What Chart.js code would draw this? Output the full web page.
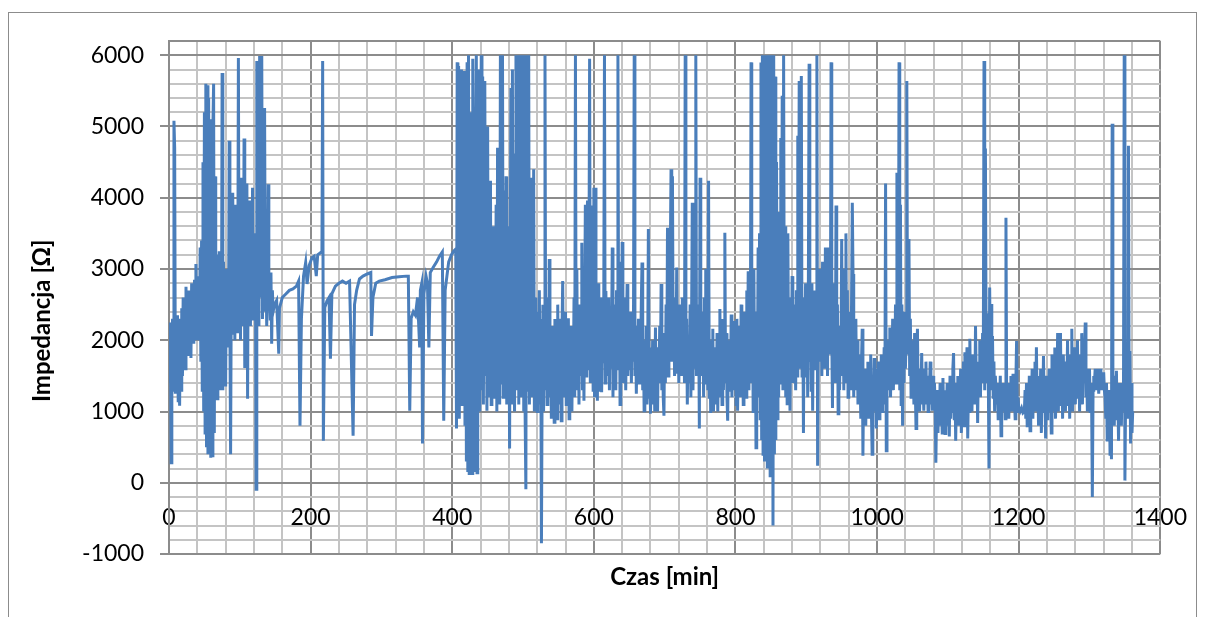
<!DOCTYPE html>
<html lang="pl">
<head>
<meta charset="utf-8">
<title>Impedancja w czasie</title>
<script src="https://cdn.jsdelivr.net/npm/chart.js@4.4.1/dist/chart.umd.min.js"></script>
<style>
    html, body { margin: 0; padding: 0; background: #fff; }
    #wrap { position: relative; width: 1208px; height: 617px; overflow: hidden; }
    #ramka { position: absolute; left: 8px; top: 12px; width: 1187px; height: 640px; border: 1px solid #8c8c8c; }
    #chartImpedancja { position: absolute; left: 0; top: 0; }
</style>
</head>
<body>
<div id="wrap">
    <div id="ramka"></div>
    <canvas id="chartImpedancja" width="1208" height="617"></canvas>
</div>
<script>
// Dane: [czas min, impedancja Ohm]
const odcinekStart = [
    [0,2250],[1,1400],[2,2100],[3,280],[4,1800],[5,2300],[6,1300],[7,5080],[8,4700],[9,1250],
    [10,2200],[11,1400],[12,2350],[13,1150],[14,1900],[15,1080],[16,2300],[17,1300],[18,2450],[19,1500],
    [20,2600],[21,1700],[22,2300],[23,1600],[24,2750],[25,1900],[26,2500],[27,1800],[28,2700],[29,2100],
    [30,2400],[31,1750],[32,2800],[33,2200],[34,2550],[35,1950],[36,2850],[37,2300],[38,3070],[39,2000],
    [40,2700],[41,2200],[42,2900],[43,2000],[44,3300],[45,1700],[46,3400],[47,1300],[48,4500],[49,1000],
    [50,5200],[51,700],[52,5600],[53,500],[54,5580],[55,400],[56,5400],[57,600],[58,5100],[59,350],
    [60,4600],[61,380],[62,5000],[63,5600],[64,700],[65,4300],[66,1200],[67,3200],[68,1180],[69,2900],
    [70,1400],[71,3250],[72,1300],[73,3000],[74,1500],[75,5750],[76,1300],[77,3100],[78,1600],[79,2900],
    [80,1350],[81,3000],[82,2100],[83,2700],[84,1900],[85,4800],[86,2200],[87,400],[88,2800],[89,2100],
    [90,4070],[91,2300],[92,3500],[93,2000],[94,3900],[95,2400],[96,3300],[97,2100],[98,5960],[99,2300],
    [100,3800],[101,2000],[102,4280],[103,2500],[104,3400],[105,2200],[106,4830],[107,1610],[108,3300],[109,2300],
    [110,4200],[111,1180],[112,3600],[113,2400],[114,3960],[115,2200],[116,3200],[117,2600],[118,4140],[119,2300],
    [120,3100],[121,2500],[122,3500],[123,-90],[124,5920],[125,2400],[126,3300],[127,2200],[128,5990],[129,2600],
    [130,3800],[131,5990],[132,2300],[133,4000],[134,2600],[135,5260],[136,2400],[137,3000],[138,2200],[139,2700],
    [140,4190],[141,2500],[142,2700],[143,2300],[144,2950],[145,1950],[146,2700],[147,2400]
];

const odcinekDryf = [
    [149,2500],[152,2560],[155,1810],[156,2450],[160,2600],[165,2650],[170,2700],[175,2720],[180,2760],[183,2830],
    [185,800],[187,2300],[190,2900],[193,3090],[195,2790],[198,3050],[202,3160],[205,3180],[208,2900],[210,3200],
    [213,3220],[216,3250],[217,5920],[218,590],[220,2460],[223,2550],[226,2600],[228,1740],[230,2650],[235,2760],
    [240,2800],[245,2830],[250,2800],[255,2830],[260,660],[262,2500],[265,2700],[269,2860],[274,2900],[280,2930],
    [285,2950],[286,2060],[288,2600],[292,2800],[297,2830],[305,2850],[315,2880],[325,2890],[335,2900],[338,2900],
    [340,1010],[342,2310],[345,2400],[348,2350],[351,2600],[354,1900],[355,2700],[357,2800],[358,550],[360,2650],
    [363,2900],[365,2800],[367,1900],[369,2950],[373,3020],[378,3100],[382,3180],[386,3240],[388,870],[390,2700],
    [395,3100],[399,3200],[402,3250],[405,3280],[406,760]
];

const odcinekBlokA = [
    [407,5900],[408,1000],[409,5850],[410,900],[411,4500],[412,1200],[413,5800],[414,1100],[415,3800],[416,1500],
    [417,5780],[418,800],[419,4200],[420,300],[421,5900],[422,150],[423,6000],[424,130],[425,5200],[426,200],
    [427,4600],[428,130],[429,5950],[430,400],[431,3500],[432,150],[433,4800],[434,6000],[435,140],[436,3000],
    [437,1200],[438,5800],[439,1000],[440,4500],[441,6000],[442,1300],[443,5700],[444,1100],[445,3500],[446,5640],
    [447,1500],[448,4800],[449,1010],[450,5000],[451,1200],[452,3200],[453,1400],[454,4240],[455,1100],[456,2800],
    [457,1500],[458,3600],[459,1200],[460,2600],[461,1300],[462,3900],[463,1000],[464,4700],[465,1300],[466,3000],
    [467,1100],[468,6000],[469,1400],[470,3500],[471,6000],[472,1200],[473,2900],[474,4100],[475,1400],[476,4300],
    [477,1100],[478,3600],[479,1500],[480,2800],[481,480],[482,3500],[483,5540],[484,1100],[485,5800],[486,1300],
    [487,3700],[488,1000],[489,4600],[490,6000],[491,1300],[492,4000],[493,6000],[494,1100],[495,5000],[496,1500],
    [497,6000],[498,1200],[499,3500],[500,6000],[501,1000],[502,4200],[503,900],[504,-90],[505,6000],[506,1300],
    [507,3800],[508,6000],[509,1100],[510,2500],[511,4280],[512,1200],[513,3000],[514,1400],[515,4400],[516,1000],
    [517,2600],[518,1300],[519,2200],[520,1000],[521,2400],[522,1100],[523,2700],[524,1400],[525,2300],[526,-850],
    [527,1500],[528,2500],[529,1000],[530,2200],[531,6000],[532,1300],[533,2600],[534,1100],[535,2400],[536,1200],
    [537,3140],[538,1300],[539,2100],[540,900],[541,2200],[542,1200],[543,2000],[544,850],[545,2300],[546,1300],
    [547,1900],[548,900],[549,2500],[550,1100],[551,2000],[552,1400],[553,2300],[554,870],[555,2100],[556,2830],
    [557,1200],[558,1900],[559,1500],[560,2400],[561,1100],[562,2000],[563,1300],[564,2310],[565,900],[566,1800],
    [567,1600],[568,2200],[569,1000],[570,2000],[571,1400],[572,2600],[573,1200],[574,6000],[575,1500],[576,3000],
    [577,1300],[578,2200],[579,1100],[580,2500],[581,1500],[582,2200],[583,3370],[584,1300],[585,2600],[586,1150],
    [587,2400],[588,3900],[589,1500],[590,2800],[591,3960],[592,1600],[593,2600],[594,5950],[595,1400],[596,3890],
    [597,1800],[598,2900],[599,1300],[600,4140]
];

const odcinekSrodek = [
    [601,1200],[602,4140],[603,1500],[604,2500],[605,1150],[606,2800],[607,1600],[608,2300],[609,1300],[610,2600],
    [611,1270],[612,2200],[613,1700],[614,2500],[615,6000],[616,1400],[617,2690],[618,1500],[619,2200],[620,1800],
    [621,2600],[622,1300],[623,2400],[624,1600],[625,2000],[626,3300],[627,1200],[628,2500],[629,1500],[630,2300],
    [631,1300],[632,2700],[633,1600],[634,6000],[635,1800],[636,3100],[637,1100],[638,2500],[639,1700],[640,3380],
    [641,1400],[642,2200],[643,1500],[644,2600],[645,1300],[646,2100],[647,2790],[648,1500],[649,2200],[650,1600],
    [651,1900],[652,2400],[653,1400],[654,2100],[655,1700],[656,2300],[657,6000],[658,1500],[659,2200],[660,1250],
    [661,2000],[662,1600],[663,2300],[664,1400],[665,2100],[666,1700],[667,2500],[668,3090],[669,1300],[670,2000],
    [671,1010],[672,1800],[673,1200],[674,2200],[675,1100],[676,1700],[677,3560],[678,1200],[679,1900],[680,970],
    [681,1600],[682,1100],[683,2000],[684,1300],[685,1800],[686,1000],[687,2180],[688,1200],[689,1700],[690,1000],
    [691,1900],[692,1400],[693,2200],[694,1500],[695,2790],[696,1300],[697,2000],[698,1200],[699,940],[700,2100],
    [701,1400],[702,2500],[703,1600],[704,3580],[705,1500],[706,2700],[707,1800],[708,3200],[709,4400],[710,1700],
    [711,4300],[712,2000],[713,2600],[714,1500],[715,2400],[716,1530],[717,3020],[718,1600],[719,2200],[720,1400],
    [721,2500],[722,1700],[723,2300],[724,1500],[725,2600],[726,1800],[727,2200],[728,1400],[729,6000],[730,1600],
    [731,2300],[732,1100],[733,2000],[734,1400],[735,1710],[736,2500],[737,1200],[738,2200],[739,3930],[740,1300],
    [741,2400],[742,1600],[743,2000],[744,6000],[745,1500],[746,2500],[747,1700],[748,2300],[749,760],[750,4280],
    [751,1500],[752,2400],[753,1600],[754,2180],[755,1200],[756,2600],[757,1400],[758,3000],[759,1500],[760,2000],
    [761,1300],[762,4240],[763,1200],[764,2000],[765,980],[766,1800],[767,1200],[768,2160],[769,1000],[770,1700],
    [771,1300],[772,1900],[773,1100],[774,2100],[775,1000],[776,1800],[777,1400],[778,2440],[779,1200],[780,2000],
    [781,1100],[782,2300],[783,1300],[784,1900],[785,3510],[786,1400],[787,2100],[788,1200],[789,870],[790,2000],
    [791,1300],[792,1800],[793,1500],[794,2360],[795,1200],[796,1900],[797,1400],[798,2270],[799,1300],[800,2000],
    [801,1100],[802,2300],[803,1010],[804,1800],[805,1500],[806,2200],[807,1200],[808,2500],[809,1300],[810,1900],
    [811,1100],[812,2400],[813,1400],[814,2000],[815,1200],[816,2700],[817,1500],[818,2970],[819,1300],[820,2500],
    [821,1600],[822,5900],[823,1400],[824,2800],[825,1000],[826,3000],[827,1300],[828,2400],[829,490],[830,2200],
    [831,1500],[832,3300]
];

const odcinekBlokB = [
    [833,1200],[834,3500],[835,900],[836,5900],[837,600],[838,6000],[839,400],[840,5950],[841,300],[842,6000],
    [843,500],[844,5900],[845,200],[846,6000],[847,350],[848,5800],[849,100],[850,6000],[851,300],[852,5950],
    [853,-600],[854,6000],[855,400],[856,5700],[857,600],[858,4500],[859,900],[860,3800],[861,1200],[862,3000],
    [863,1400],[864,4840],[865,1500],[866,5430],[867,1300],[868,6000],[869,1600],[870,3600],[871,1200],[872,2800],
    [873,1110],[874,3500],[875,1500],[876,2600],[877,1010],[878,2300],[879,1600],[880,2900],[881,1400],[882,2500],
    [883,1800],[884,2200],[885,1300],[886,2700],[887,1500],[888,4870],[889,1800],[890,5640],[891,1600],[892,4300],
    [893,5710],[894,1500],[895,2600],[896,700],[897,2400],[898,1800],[899,2800],[900,1500],[901,2600],[902,1200],
    [903,2900],[904,5880],[905,1700],[906,2500],[907,1300],[908,2800],[909,1010],[910,2400],[911,1600],[912,2700],
    [913,1900],[914,2200],[915,6000],[916,240],[917,2500],[918,2000],[919,3000],[920,1700],[921,2800],[922,1500],
    [923,3100],[924,2000],[925,2700],[926,1600],[927,3300],[928,1800],[929,2600],[930,1500],[931,3300],[932,2000],
    [933,2400],[934,1800],[935,5900],[936,2100],[937,1050],[938,2800],[939,1600],[940,2300],[941,1400],[942,3890],
    [943,1500],[944,2500],[945,970],[946,2200],[947,1300],[948,2000],[949,1700],[950,3420],[951,1500],[952,2700],
    [953,1300],[954,3000],[955,1600],[956,3500],[957,1400],[958,2700],[959,1200],[960,2400],[961,1500],[962,2200],
    [963,1300],[964,2600],[965,3930],[966,2930],[967,1200],[968,2000],[969,1500],[970,2300],[971,1300],[972,2000],
    [973,1100],[974,1800],[975,1300],[976,1500],[977,900],[978,1700],[979,2160],[980,380],[981,1400],[982,1000],
    [983,1600],[984,800],[985,1500],[986,1100],[987,1700],[988,900],[989,1400],[990,1200],[991,1800],[992,1000],
    [993,400],[994,1500],[995,1100],[996,1750],[997,1000],[998,1600],[999,760],[1000,1400],[1001,1200],[1002,1700],
    [1003,900],[1004,1500],[1005,1100],[1006,1800],[1007,1000],[1008,1600],[1009,1300],[1010,1900],[1011,1100],[1012,4200],
    [1013,450],[1014,1600],[1015,1300],[1016,2000],[1017,1400],[1018,2180],[1019,1200],[1020,1900],[1021,1500],[1022,2300],
    [1023,1300],[1024,1900],[1025,1600],[1026,2500],[1027,1400],[1028,4350],[1029,2000],[1030,1500],[1031,5900],[1032,1300],
    [1033,3900],[1034,1100],[1035,2500],[1036,800],[1037,2200],[1038,1400],[1039,2400],[1040,1600],[1041,2000],[1042,5640],
    [1043,1800],[1044,2600],[1045,3420],[1046,1500],[1047,2300],[1048,1200],[1049,2000],[1050,1400],[1051,1800],[1052,1100],
    [1053,2100],[1054,1300],[1055,760],[1056,1700],[1057,2160],[1058,1200],[1059,1600],[1060,1000],[1061,1500],[1062,1300],
    [1063,1820],[1064,1100],[1065,1400],[1066,1010],[1067,1600],[1068,1200],[1069,1700],[1070,1100],[1071,1500],[1072,1000],
    [1073,1400],[1074,1300],[1075,1700],[1076,1100],[1077,1300],[1078,1010],[1079,1500],[1080,1200],[1081,1400],[1082,1100],
    [1083,280],[1084,1000],[1085,1300],[1086,700],[1087,1200],[1088,900],[1089,1400],[1090,800],[1091,1100],[1092,700],
    [1093,1470],[1094,900],[1095,1200],[1096,690],[1097,1300],[1098,1000],[1099,1400],[1100,800]
];

const odcinekKoniec = [
    [1101,1200],[1102,650],[1103,1500],[1104,900],[1105,1300],[1106,1000],[1107,1600],[1108,1820],[1109,900],[1110,1400],
    [1111,590],[1112,1200],[1113,1000],[1114,1500],[1115,800],[1116,1300],[1117,1100],[1118,1600],[1119,700],[1120,1400],
    [1121,1000],[1122,1700],[1123,800],[1124,1830],[1125,1100],[1126,1500],[1127,1900],[1128,620],[1129,1300],[1130,1000],
    [1131,2020],[1132,1200],[1133,1600],[1134,1000],[1135,1800],[1136,1300],[1137,1500],[1138,1100],[1139,2200],[1140,1400],
    [1141,1700],[1142,840],[1143,1600],[1144,1300],[1145,2000],[1146,1200],[1147,1800],[1148,1400],[1149,2100],[1150,1500],
    [1151,5920],[1152,1300],[1153,4690],[1154,1800],[1155,2380],[1156,1400],[1157,1600],[1158,200],[1159,2740],[1160,1500],
    [1161,2510],[1162,1300],[1163,2060],[1164,1200],[1165,1700],[1166,1000],[1167,1500],[1168,1300],[1169,1100],[1170,1400],
    [1171,900],[1172,1300],[1173,1100],[1174,1500],[1175,660],[1176,1200],[1177,1000],[1178,1400],[1179,1100],[1180,1300],
    [1181,900],[1182,3720],[1183,1200],[1184,1000],[1185,1400],[1186,900],[1187,1300],[1188,1100],[1189,1500],[1190,1000],
    [1191,1300],[1192,1530],[1193,1000],[1194,1200],[1195,900],[1196,1400],[1197,1990],[1198,1000],[1199,1200],[1200,1050],
    [1202,1000],[1204,1050],[1206,980],[1208,1000],[1209,1300],[1210,900],[1211,1400],[1212,800],[1213,1200],[1214,1000],
    [1215,1500],[1216,730],[1217,1300],[1218,1100],[1219,1600],[1220,900],[1221,1400],[1222,1200],[1223,1700],[1224,1000],
    [1225,1900],[1226,1100],[1227,1500],[1228,800],[1229,1300],[1230,1000],[1231,1600],[1232,700],[1233,1400],[1234,1100],
    [1235,1780],[1236,1000],[1237,1300],[1238,620],[1239,1500],[1240,900],[1241,1200],[1242,1000],[1243,1600],[1244,1100],
    [1245,1400],[1246,700],[1247,1800],[1248,1000],[1249,1500],[1250,1200],[1251,1900],[1252,900],[1253,1600],[1254,1300],
    [1255,2100],[1256,1000],[1257,1700],[1258,1400],[1259,2100],[1260,1100],[1261,1600],[1262,900],[1263,1800],[1264,1200],
    [1265,1500],[1266,1000],[1267,1700],[1268,1300],[1269,2000],[1270,1100],[1271,1600],[1272,900],[1273,1800],[1274,1200],
    [1275,2160],[1276,1000],[1277,1500],[1278,1300],[1279,1900],[1280,1100],[1281,1700],[1282,1300],[1283,2000],[1284,1200],
    [1285,1600],[1286,1000],[1287,1800],[1288,1300],[1289,2100],[1290,1100],[1291,1700],[1292,1400],[1293,1900],[1294,2250],
    [1295,1200],[1296,1600],[1297,1000],[1298,1400],[1299,1200],[1300,1600],[1301,1000],[1302,1400],[1303,1100],[1304,-200],
    [1305,1300],[1306,1500],[1307,1400],[1308,1600],[1309,1300],[1310,1550],[1311,1400],[1312,1600],[1313,1250],[1314,1500],
    [1315,1350],[1316,1600],[1317,1300],[1318,1500],[1319,1400],[1320,1550],[1321,1300],[1322,1200],[1323,900],[1324,1400],
    [1325,600],[1326,1200],[1327,800],[1328,1300],[1329,400],[1330,1100],[1331,330],[1332,5040],[1333,900],[1334,1300],
    [1335,800],[1336,1500],[1337,1000],[1338,1570],[1339,900],[1340,1300],[1341,590],[1342,1400],[1343,1000],[1344,1200],
    [1345,800],[1346,1400],[1347,1000],[1348,1300],[1349,6000],[1350,30],[1351,1200],[1352,1000],[1353,1400],[1354,900],
    [1355,4730],[1356,1000],[1357,1850],[1358,550],[1359,1400],[1360,700],[1361,1000]
];

// Skale
const zakresX = [0, 1400];
const zakresY = [-1000, 6200];
const krokX = 40;
const krokY = 200;
const opisX = 200;
const opisY = 1000;

const kolorLinii = '#4A7EBB';
const kolorSiatki = '#C4C4C4';
const kolorSiatkiGlownej = '#8C8C8C';

const punkty = []
    .concat(odcinekStart, odcinekDryf, odcinekBlokA, odcinekSrodek, odcinekBlokB, odcinekKoniec)
    .map(p => ({ x: p[0], y: p[1] }));

Chart.defaults.font.family = 'Lato, "Open Sans", sans-serif';
Chart.defaults.color = '#000';

const ctx = document.getElementById('chartImpedancja').getContext('2d');

new Chart(ctx, {
    type: 'line',
    data: {
        datasets: [{
            label: 'Impedancja',
            data: punkty,
            borderColor: kolorLinii,
            borderWidth: 3,
            pointRadius: 0,
            tension: 0,
            fill: false
        }]
    },
    options: {
        responsive: false,
        animation: false,
        events: [],
        layout: {
            padding: { left: 0, top: 41, right: 46, bottom: 63 }
        },
        plugins: {
            legend: { display: false },
            tooltip: { enabled: false }
        },
        scales: {
            x: {
                type: 'linear',
                position: { y: 0 },
                min: zakresX[0],
                max: zakresX[1],
                grid: {
                    drawTicks: false,
                    lineWidth: 2,
                    color: c => (c.tick && c.tick.value % opisX === 0) ? kolorSiatkiGlownej : kolorSiatki
                },
                border: { color: kolorSiatkiGlownej, width: 2 },
                ticks: {
                    stepSize: krokX,
                    autoSkip: false,
                    maxRotation: 0,
                    maxTicksLimit: 100,
                    padding: 21,
                    font: { size: 23 },
                    callback: v => (v % opisX === 0 ? String(v) : '')
                },
                title: {
                    display: true,
                    text: 'Czas [min]',
                    font: { size: 24, weight: 'bold' },
                    padding: { top: 11, bottom: 0 }
                }
            },
            y: {
                type: 'linear',
                min: zakresY[0],
                max: zakresY[1],
                afterFit: scale => { scale.width = 169; },
                grid: {
                    tickLength: 9,
                    lineWidth: 2,
                    color: c => (c.tick && (c.tick.value % opisY === 0 || c.tick.value === zakresY[1])) ? kolorSiatkiGlownej : kolorSiatki,
                    tickColor: c => (c.tick && c.tick.value % opisY === 0) ? kolorSiatkiGlownej : 'rgba(0,0,0,0)'
                },
                border: { color: kolorSiatkiGlownej, width: 2 },
                ticks: {
                    stepSize: krokY,
                    autoSkip: false,
                    maxTicksLimit: 100,
                    padding: 16,
                    font: { size: 23 },
                    callback: v => (v % opisY === 0 ? String(v) : '')
                },
                title: {
                    display: true,
                    // spacje na końcu przesuwają napis w dół, jak w oryginale
                    text: 'Impedancja [Ω]\u00A0\u00A0\u00A0\u00A0\u00A0\u00A0\u00A0\u00A0',
                    font: { size: 24, weight: 'bold' },
                    padding: { top: 28, bottom: 0 }
                }
            }
        }
    }
});
</script>
</body>
</html>
